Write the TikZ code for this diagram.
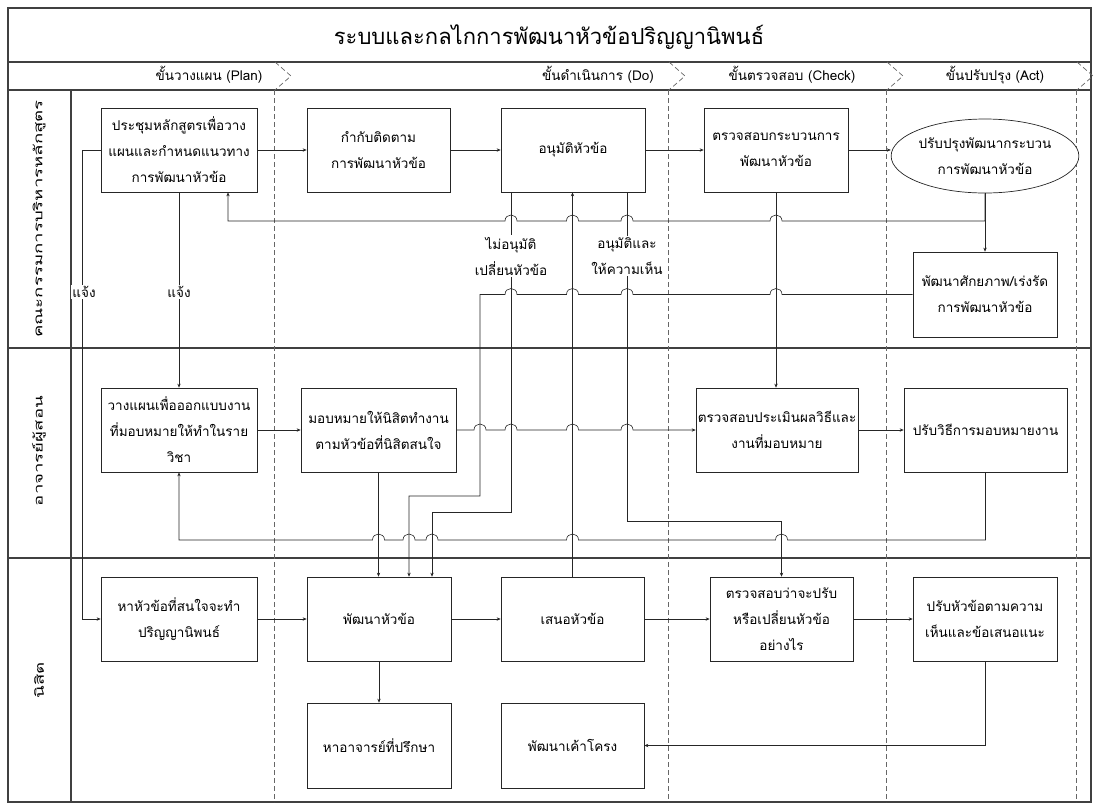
\documentclass[tikz,border=0pt]{standalone}
\usepackage{fontspec}
\newfontfamily\thai[Script=Thai]{Loma}
\usetikzlibrary{arrows.meta,shapes.geometric}
\newcommand\mkbox[6]{\node[box, minimum width={(#4-#2)*1pt}, minimum height={(#5-#3)*1pt}] (#1) at ({(#2+#4)/2},{(#3+#5)/2}) {#6};}
\newcommand\hopL[2]{-- ({#1+6},#2) .. controls ({#1+6},{#2-8}) and ({#1-6},{#2-8}) .. ({#1-6},#2)}
\newcommand\hopR[2]{-- ({#1-6},#2) .. controls ({#1-6},{#2-8}) and ({#1+6},{#2-8}) .. ({#1+6},#2)}
\begin{document}
\begin{tikzpicture}[x=1pt,y=-1pt,
  font=\thai\fontsize{13.5}{26}\selectfont,
  box/.style={draw=black!85, line width=0.7pt, align=center, inner sep=0pt, fill=white},
  conn/.style={draw=black!85, line width=0.6pt},
  arr/.style={conn, -{Stealth[length=4pt,width=3.4pt]}},
  struct/.style={draw=black!75, line width=1.3pt},
  phase/.style={draw=black!60, line width=0.7pt, dash pattern=on 5pt off 3pt},
  lbl/.style={fill=white, inner sep=1.5pt, align=center},
  hdr/.style={inner sep=0pt},
  lane/.style={rotate=90, xscale=1.55, font=\thai\fontsize{12}{20}\selectfont},
]
\useasboundingbox (0,0) rectangle (1094,804);
% frame
\draw[struct] (8,8) rectangle (1091,802);
\draw[struct] (8,62) -- (1091,62);
\draw[struct] (8,90) -- (1091,90);
\draw[struct] (8,348) -- (1091,348);
\draw[struct] (8,558) -- (1091,558);
\draw[struct] (71,90) -- (71,802);
% phase lines
\foreach \px in {274,668,886,1076}{
  \draw[phase] (\px+1,62) -- (\px+17,76) -- (\px+1,90);
  \draw[phase] (\px,90) -- (\px,802);
}
% title & headers
\node (T) at (549,37) {\fontsize{22}{26}\selectfont ระบบและกลไกการพัฒนาหัวข้อปริญญานิพนธ์};
\node[hdr] (P1) at (209,75) {ขั้นวางแผน (Plan)};
\node[hdr] (P2) at (598,75) {ขั้นดำเนินการ (Do)};
\node[hdr] (P3) at (792,75) {ขั้นตรวจสอบ (Check)};
\node[hdr] (P4) at (995,75) {ขั้นปรับปรุง (Act)};
% lane labels
\node[lane] (L1) at (39,219) {คณะกรรมการบริหารหลักสูตร};
\node[lane] (L2) at (39,451) {อาจารย์ผู้สอน};
\node[lane] (L3) at (39,680) {นิสิต};
% channel coordinates
\coordinate (x82) at (82,0);
\coordinate (x228) at (228,0);
\coordinate (x409) at (409,0);
\coordinate (x432) at (432,0);
\coordinate (x511) at (511,0);
\coordinate (x627) at (627,0);
% boxes
\mkbox{A1}{101}{108}{257}{192}{ประชุมหลักสูตรเพื่อวาง\\แผนและกำหนดแนวทาง\\การพัฒนาหัวข้อ}
\mkbox{A2}{307}{108}{450}{192}{กำกับติดตาม\\การพัฒนาหัวข้อ}
\mkbox{A3}{501}{108}{645}{192}{อนุมัติหัวข้อ}
\mkbox{A4}{704}{108}{848}{192}{ตรวจสอบกระบวนการ\\พัฒนาหัวข้อ}
\node[box, ellipse, minimum width=164pt, minimum height=74pt] (A5) at (985,156) {ปรับปรุงพัฒนากระบวน\\การพัฒนาหัวข้อ};
\mkbox{A6}{913}{252}{1057}{337}{พัฒนาศักยภาพ/เร่งรัด\\การพัฒนาหัวข้อ}
\mkbox{B1}{101}{388}{257}{472}{วางแผนเพื่อออกแบบงาน\\ที่มอบหมายให้ทำในราย\\วิชา}
\mkbox{B2}{301}{388}{456}{472}{มอบหมายให้นิสิตทำงาน\\ตามหัวข้อที่นิสิตสนใจ}
\mkbox{B3}{696}{388}{858}{472}{ตรวจสอบประเมินผลวิธีและ\\งานที่มอบหมาย}
\mkbox{B4}{904}{388}{1067}{472}{ปรับวิธีการมอบหมายงาน}
\mkbox{C1}{101}{577}{257}{661}{หาหัวข้อที่สนใจจะทำ\\ปริญญานิพนธ์}
\mkbox{C2}{307}{577}{451}{661}{พัฒนาหัวข้อ}
\mkbox{C3}{307}{703}{451}{788}{หาอาจารย์ที่ปรึกษา}
\mkbox{C4}{501}{577}{644}{661}{เสนอหัวข้อ}
\mkbox{C5}{710}{577}{853}{661}{ตรวจสอบว่าจะปรับ\\หรือเปลี่ยนหัวข้อ\\อย่างไร}
\mkbox{C6}{913}{577}{1057}{661}{ปรับหัวข้อตามความ\\เห็นและข้อเสนอแนะ}
\mkbox{C7}{501}{703}{644}{788}{พัฒนาเค้าโครง}
% lane 1 connectors
\draw[arr] (A1.east) -- (A2.west);
\draw[arr] (A2.east) -- (A3.west);
\draw[arr] (A3.east) -- (A4.west);
\draw[arr] (A4.east) -- (A4.east -| A5.west);
\draw[arr] (A5.south) -- (A6.north);
\draw[arr] (A5.south) -- (985,221) \hopL{776}{221} \hopL{627}{221} \hopL{572.5}{221} \hopL{511}{221} -- (228,221) -- (A1.south -| x228);
\draw[arr] (A1.south) -- (B1.north);
\node[lbl] (N1) at (179,292) {แจ้ง};
\draw[arr] (A1.west) -- (A1.west -| x82) -- (C1.west -| x82) -- (C1.west);
\node[lbl] (N2) at (84,292) {แจ้ง};
% approval branches
\draw[arr] (A3.south -| x511) -- (511,512) -- (432,512) -- (C2.north -| x432);
\node[lbl] (N3) at (511,256) {ไม่อนุมัติ\\เปลี่ยนหัวข้อ};
\draw[arr] (A3.south -| x627) -- (627,521) -- (C5.north |- 0,521) -- (C5.north);
\node[lbl] (N4) at (627,256) {อนุมัติและ\\ให้ความเห็น};
\draw[arr] (C4.north) -- (C4.north |- A3.south);
\draw[arr] (A4.south) -- (A4.south |- B3.north);
\draw[arr] (A6.west) \hopL{776}{294.5} \hopL{627}{294.5} \hopL{572.5}{294.5} \hopL{511}{294.5} -- (480,294.5) -- (480,496) -- (409,496) -- (C2.north -| x409);
% lane 2 connectors
\draw[arr] (B1.east) -- (B2.west);
\draw[arr] (B2.east) \hopR{480}{430} \hopR{511}{430} \hopR{572.5}{430} \hopR{627}{430} -- (B3.west);
\draw[arr] (B3.east) -- (B4.west);
\draw[arr] (B2.south) -- (B2.south |- C2.north);
\draw[arr] (B4.south) -- (985.5,540) \hopL{781.5}{540} \hopL{572.5}{540} \hopL{432}{540} \hopL{409}{540} \hopL{378.5}{540} -- (179,540) -- (B1.south);
% lane 3 connectors
\draw[arr] (C1.east) -- (C2.west);
\draw[arr] (C2.east) -- (C4.west);
\draw[arr] (C4.east) -- (C5.west);
\draw[arr] (C5.east) -- (C6.west);
\draw[arr] (C2.south) -- (C3.north);
\draw[arr] (C6.south) -- (C6.south |- C7.east) -- (C7.east);
\end{tikzpicture}
\end{document}
